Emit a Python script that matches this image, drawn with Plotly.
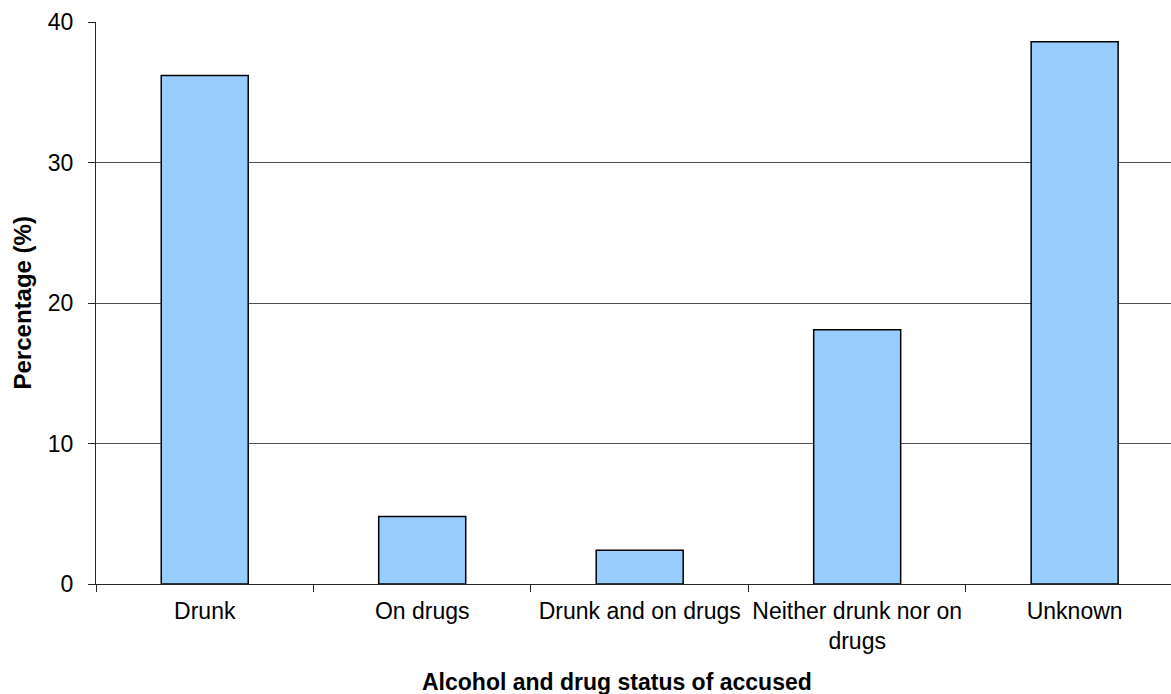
import plotly.graph_objects as go

# Alcohol and drug status of accused persons (percentage of cases)
categories = [
    "Drunk",
    "On drugs",
    "Drunk and on drugs",
    "Neither drunk nor on<br>drugs",
    "Unknown",
]
percentages = [36.2, 4.8, 2.4, 18.1, 38.6]
y_ticks = [0, 10, 20, 30, 40]

FONT = "Liberation Sans, Arial, sans-serif"
AXIS_COLOR = "#262626"

fig = go.Figure(
    go.Bar(
        x=categories,
        y=percentages,
        width=0.4,
        marker=dict(color="#99CCFF", line=dict(color="#000000", width=1.5)),
        hoverinfo="x+y",
    )
)

fig.update_layout(
    width=1171,
    height=694,
    margin=dict(l=96, r=0, t=22, b=110, autoexpand=False),
    paper_bgcolor="white",
    plot_bgcolor="white",
    showlegend=False,
    font=dict(family=FONT, size=23, color="#000000"),
    bargap=0.6,
)

fig.update_xaxes(
    type="category",
    range=[-0.5, 4.443],
    automargin=False,
    showline=True,
    linecolor=AXIS_COLOR,
    linewidth=1.3,
    ticks="outside",
    tickson="boundaries",
    ticklen=7,
    tickwidth=1.3,
    tickcolor=AXIS_COLOR,
    showgrid=False,
    tickangle=0,
    tickfont=dict(size=23),
    ticklabelstandoff=6,
)

fig.update_yaxes(
    range=[0, 40],
    automargin=False,
    tickvals=y_ticks,
    showline=True,
    linecolor=AXIS_COLOR,
    linewidth=1.3,
    ticks="outside",
    ticklen=7,
    tickwidth=1.3,
    tickcolor=AXIS_COLOR,
    showgrid=True,
    gridcolor="#4d4d4d",
    gridwidth=1.2,
    zeroline=False,
    tickfont=dict(size=23),
    ticklabelstandoff=10,
)

# Axis titles placed relative to the plotting area
fig.add_annotation(
    text="<b>Percentage (%)</b>",
    xref="paper",
    yref="paper",
    x=-0.0693,
    y=0.5,
    xanchor="center",
    yanchor="middle",
    textangle=-90,
    showarrow=False,
    font=dict(size=24),
)

fig.add_annotation(
    text="<b>Alcohol and drug status of accused</b>",
    xref="paper",
    yref="paper",
    x=0.485,
    y=-0.174,
    xanchor="center",
    yanchor="middle",
    showarrow=False,
    font=dict(size=23),
)

fig.write_html("out.html")
